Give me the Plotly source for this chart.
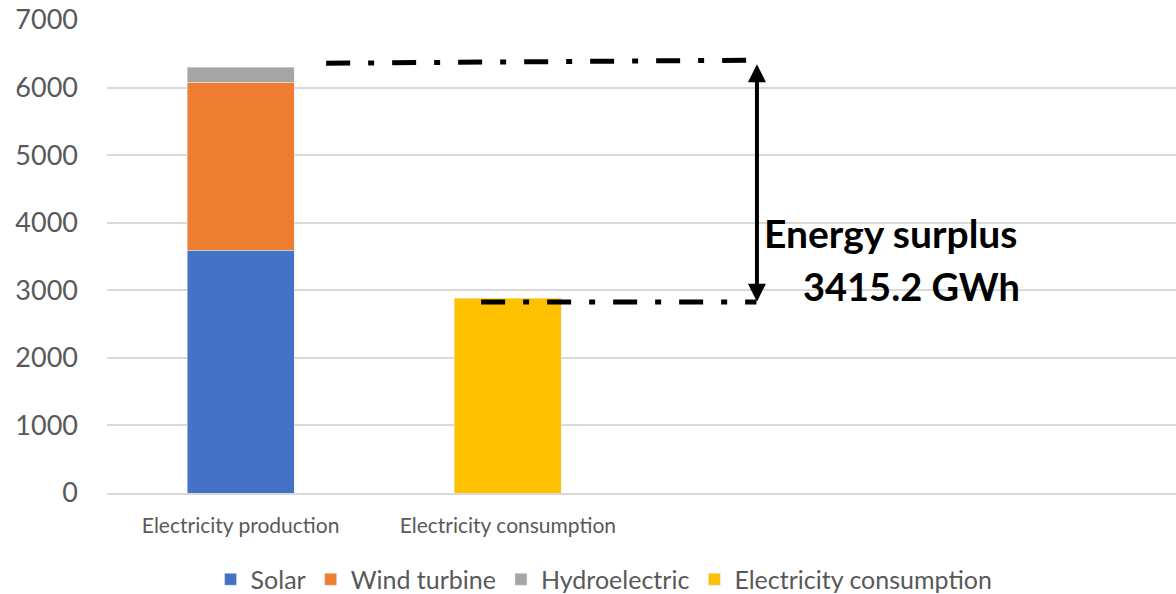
import plotly.graph_objects as go

# Category labels and series values (GWh)
categories = ["Electricity production", "Electricity consumption"]
solar = [3595, None]
wind = [2485, None]
hydro = [220, None]
consumption = [None, 2884.8]

production_total = solar[0] + wind[0] + hydro[0]
surplus = production_total - consumption[1]

y_ticks = [0, 1000, 2000, 3000, 4000, 5000, 6000, 7000]

FONT = "Lato"
GREY = "#595959"

fig = go.Figure()
fig.add_bar(name="Solar", x=categories, y=solar, marker_color="#4472C4")
fig.add_bar(name="Wind turbine", x=categories, y=wind, marker_color="#ED7D31")
fig.add_bar(name="Hydroelectric", x=categories, y=hydro, marker_color="#A5A5A5")
fig.add_bar(name="Electricity consumption", x=categories, y=consumption,
            marker_color="#FFC000")

dash_pattern = "24px,18px,6px,18px"

# Dash-dot guide at the production level (drawn slightly rising)
fig.add_shape(type="line", xref="x", yref="y",
              x0=0.32, y0=production_total + 60, x1=1.9, y1=production_total + 105,
              line=dict(color="black", width=5, dash=dash_pattern))
# Dash-dot guide at the consumption level
fig.add_shape(type="line", xref="x", yref="y",
              x0=0.9, y0=consumption[1] - 60, x1=1.93, y1=consumption[1] - 60,
              line=dict(color="black", width=5, dash=dash_pattern))

# Double-headed arrow spanning the surplus
fig.add_annotation(x=1.932, y=production_total + 45, ax=1.932, ay=consumption[1] - 75,
                   xref="x", yref="y", axref="x", ayref="y",
                   text="", showarrow=True, arrowhead=2, startarrowhead=2,
                   arrowside="end+start", arrowwidth=4, arrowsize=0.9,
                   startarrowsize=0.9, arrowcolor="black")

fig.add_annotation(x=1.95, y=3850, xref="x", yref="y", xanchor="left",
                   text="<b>Energy surplus</b>", showarrow=False,
                   font=dict(family=FONT, size=39, color="black"))
fig.add_annotation(x=2.095, y=3060, xref="x", yref="y", xanchor="left",
                   text=f"<b>{surplus:.1f} GWh</b>", showarrow=False,
                   font=dict(family=FONT, size=38, color="black"))

fig.update_layout(
    barmode="stack",
    bargap=0.6,
    width=1176, height=594,
    margin=dict(l=107, r=0, t=20, b=101, autoexpand=False),
    plot_bgcolor="white", paper_bgcolor="white",
    font=dict(family=FONT, color=GREY),
    legend=dict(orientation="h", x=0.465, xanchor="center", y=-0.183, yanchor="middle",
                font=dict(size=25, color=GREY), traceorder="normal",
                itemwidth=30),
)
fig.update_xaxes(type="category", range=[-0.5, 3.5], showline=True,
                 linecolor="#D9D9D9", linewidth=1.5, ticks="",
                 tickfont=dict(size=21, color=GREY), ticklabelstandoff=13,
                 showgrid=False, automargin=False)
fig.update_yaxes(range=[0, 7000], tickvals=y_ticks, showgrid=True,
                 gridcolor="#D9D9D9", gridwidth=1.5, zeroline=False,
                 tickfont=dict(size=27, color=GREY), ticklabelstandoff=28,
                 automargin=False)

fig.write_html("out.html")
